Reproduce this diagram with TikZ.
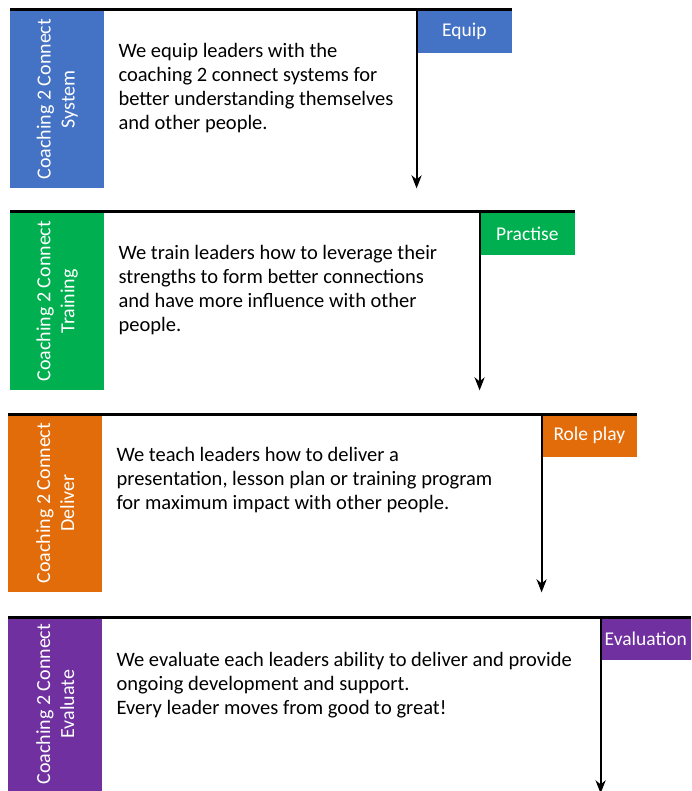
\documentclass[tikz,border=0pt]{standalone}
\usepackage{fontspec}
\setmainfont{Carlito}
\usepackage{tikz}
\usetikzlibrary{arrows.meta,positioning}
\definecolor{sysblue}{HTML}{4472C4}
\definecolor{trngreen}{HTML}{00B050}
\definecolor{dlvorange}{HTML}{E26B0A}
\definecolor{evlpurple}{HTML}{7030A0}

\begin{document}
\begin{tikzpicture}[
                    x=1pt, y=1pt,
                    bar/.style={minimum width=94pt, minimum height=178pt,
                                inner sep=0pt, anchor=north west},
                    bartext/.style={rotate=90, text=white, align=center,
                                font=\fontsize{20}{24}\selectfont},
                    tag/.style={minimum width=95pt, minimum height=43pt,
                                inner sep=0pt, anchor=north east, text=white,
                                font=\fontsize{19.5}{22}\selectfont},
                    body/.style={inner sep=0pt, align=left,
                                font=\fontsize{20.5}{24}\selectfont},
                    topline/.style={line width=3pt},
                    flow/.style={-{Stealth[length=13pt,width=10pt,inset=4pt]}, line width=2pt}]
                \useasboundingbox (0,0) rectangle (691,-791);

                \node[bar, fill=sysblue] (bar_1) at (10,-10) {};
                \node[bartext] (lbl_1) at (bar_1) {Coaching 2 Connect\\System};
                \node[tag, fill=sysblue] (tag_1) at (512,-10) {Equip};
                \node[body] (txt_1) [below right=33pt and 14pt of bar_1.north east]
                      {We equip leaders with the\\coaching 2 connect systems for\\better understanding themselves\\and other people.};
                \coordinate (end_1) at (tag_1.north west |- bar_1.south);

                \node[bar, fill=trngreen] (bar_2) at (10,-212) {};
                \node[bartext] (lbl_2) at (bar_2) {Coaching 2 Connect\\Training};
                \node[tag, fill=trngreen] (tag_2) at (575,-212) {Practise};
                \node[body] (txt_2) [below right=33pt and 14pt of bar_2.north east]
                      {We train leaders how to leverage their\\strengths to form better connections\\and have more influence with other\\people.};
                \coordinate (end_2) at (tag_2.north west |- bar_2.south);

                \node[bar, fill=dlvorange] (bar_3) at (8,-414) {};
                \node[bartext] (lbl_3) at (bar_3) {Coaching 2 Connect\\Deliver};
                \node[tag, fill=dlvorange] (tag_3) at (637,-414) {Role play};
                \node[body] (txt_3) [below right=33pt and 14pt of bar_3.north east]
                      {We teach leaders how to deliver a\\presentation, lesson plan or training program\\for maximum impact with other people.};
                \coordinate (end_3) at (tag_3.north west |- bar_3.south);

                \node[bar, fill=evlpurple, minimum height=174pt] (bar_4) at (8,-617) {};
                \node[bartext] (lbl_4) at (bar_4) {Coaching 2 Connect\\Evaluate};
                \node[tag, fill=evlpurple, minimum width=90pt] (tag_4) at (691,-617) {Evaluation};
                \node[body] (txt_4) [below right=35pt and 14pt of bar_4.north east]
                      {We evaluate each leaders ability to deliver and provide\\ongoing development and support.\\Every leader moves from good to great!};
                \coordinate (end_4) at ([yshift=-2pt]tag_4.north west |- bar_4.south);

                \draw[topline] (bar_1.north west) -- (tag_1.north east);
                \draw[topline] (bar_2.north west) -- (tag_2.north east);
                \draw[topline] (bar_3.north west) -- (tag_3.north east);
                \draw[topline] (bar_4.north west) -- (tag_4.north east);
                \path[flow]
                      (tag_1.north west) edge (end_1)
                      (tag_2.north west) edge (end_2)
                      (tag_3.north west) edge (end_3)
                      (tag_4.north west) edge (end_4);
            \end{tikzpicture}
\end{document}
